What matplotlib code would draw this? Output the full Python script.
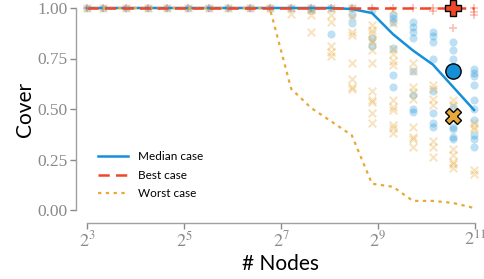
import numpy as np
import matplotlib
matplotlib.use("Agg")
from matplotlib import pyplot as plt

plt.rcParams['font.family'] = ['Liberation Serif', 'DejaVu Serif']
plt.rcParams['mathtext.fontset'] = 'stix'

# network sizes (# nodes) for each column of runs
nodes = [8, 10, 14, 19, 25, 34, 46, 60, 82, 109, 148, 197, 261, 352, 470, 635, 843, 1121, 1495, 2020]

median_cover = [1, 1, 1, 1, 1, 1, 1, 1, 1, 1, 1, 1, 1, 0.995, 0.975, 0.87, 0.79, 0.72, 0.61, 0.495]
best_cover = [1] * 20
worst_cover = [1, 1, 1, 1, 1, 1, 1, 1, 1, 1, 0.60, 0.505, 0.44, 0.37, 0.13, 0.115, 0.045, 0.045, 0.035, 0.01]

# individual runs, one list per column of nodes
median_runs = [
    [1.0], [1.0], [1.0], [1.0], [1.0], [1.0], [1.0], [1.0], [1.0], [1.0],
    [1.0],
    [1.0, 0.99],
    [1.0, 0.87],
    [1.0, 0.965, 0.925],
    [0.99, 0.85, 0.81],
    [0.965, 0.95, 0.93, 0.80, 0.67, 0.61],
    [0.93, 0.905, 0.88, 0.85, 0.69, 0.57, 0.50, 0.485],
    [0.88, 0.86, 0.83, 0.75, 0.59, 0.48, 0.43, 0.41],
    [0.83, 0.79, 0.75, 0.51, 0.41, 0.40, 0.36, 0.35],
    [0.70, 0.68, 0.665, 0.62, 0.545, 0.50, 0.445, 0.37, 0.35, 0.31],
]
worst_runs = [
    [1.0], [1.0], [1.0], [1.0], [1.0], [1.0], [1.0], [1.0], [1.0], [1.0],
    [1.0, 0.97],
    [1.0, 0.99, 0.965, 0.88],
    [1.0, 0.965, 0.93, 0.81, 0.78, 0.76],
    [1.0, 0.955, 0.88, 0.865, 0.73, 0.65, 0.61, 0.60],
    [0.915, 0.89, 0.875, 0.84, 0.83, 0.79, 0.73, 0.59, 0.545, 0.535, 0.48, 0.43],
    [0.99, 0.925, 0.795, 0.77, 0.74, 0.72, 0.545, 0.51, 0.495, 0.42, 0.405, 0.38],
    [0.73, 0.69, 0.61, 0.585, 0.55, 0.41, 0.36, 0.35, 0.31],
    [0.62, 0.60, 0.55, 0.52, 0.34, 0.31, 0.26],
    [0.545, 0.52, 0.30, 0.27, 0.24, 0.23, 0.21],
    [0.43, 0.41, 0.40, 0.20, 0.18],
]
best_runs = [[1.0]] * 17 + [[1.0, 0.985], [0.90], [1.0, 0.98, 0.965]]

# highlighted run
hl_nodes = 1495
hl_median, hl_best, hl_worst = 0.69, 1.0, 0.465

xticks = [2**3, 2**5, 2**7, 2**9, 2**11]
xtick_labels = ['$2^{3}$', '$2^{5}$', '$2^{7}$', '$2^{9}$', '$2^{11}$']
yticks = [0.0, 0.25, 0.5, 0.75, 1.0]

blue = '#1590d8'
red = '#f0462a'
orange = '#e8a93a'
grey = '#8a8a8a'


def flat(runs):
    xs, ys = [], []
    for n, r in zip(nodes, runs):
        xs += [n] * len(r)
        ys += r
    return xs, ys


fig = plt.figure(figsize=(4.85, 2.79), dpi=100)
ax = fig.add_axes([87/485, 1 - 210/279, 388/485, 202/279])

x, y = flat(median_runs)
ax.scatter(x, y, s=34, color=blue, alpha=0.28, linewidths=0, zorder=2, clip_on=False)
x, y = flat(worst_runs)
ax.scatter(x, y, s=30, marker='x', color=orange, alpha=0.32, linewidths=1.5, zorder=2, clip_on=False)
x, y = flat(best_runs)
ax.scatter(x, y, s=30, marker='+', color=red, alpha=0.32, linewidths=1.3, zorder=2, clip_on=False)

ax.plot(nodes, median_cover, color=blue, lw=1.8, label='Median case', zorder=3, clip_on=False)
ax.plot(nodes, best_cover, color=red, lw=1.8, ls=(0, (4.5, 2.5)), label='Best case', zorder=4, clip_on=False)
ax.plot(nodes, worst_cover, color=orange, lw=1.6, ls=(0, (1.5, 2)), label='Worst case', zorder=3, clip_on=False)

ax.plot([hl_nodes], [hl_median], 'o', ms=11, mfc=blue, mec='black', mew=1, zorder=6, clip_on=False)
ax.plot([hl_nodes], [hl_best], 'P', ms=12, mfc=red, mec='black', mew=1, zorder=6, clip_on=False)
ax.plot([hl_nodes], [hl_worst], 'X', ms=12, mfc=orange, mec='black', mew=1, zorder=6, clip_on=False)

ax.set_xscale('log', base=2)
ax.set_xlim(8, 2048)
ax.set_ylim(0, 1)
ax.set_xticks(xticks)
ax.set_xticklabels(xtick_labels)
ax.minorticks_off()
ax.set_yticks(yticks)
ax.set_yticklabels(['%.2f' % v for v in yticks])

for s in ['top', 'right']:
    ax.spines[s].set_visible(False)
ax.spines['left'].set_position(('outward', 8))
ax.spines['bottom'].set_position(('outward', 9))
for s in ['left', 'bottom']:
    ax.spines[s].set_color('#a0a0a0')
    ax.spines[s].set_linewidth(1.0)
ax.tick_params(colors=grey, labelsize=12.5, length=4, width=1, pad=2)
ax.tick_params(axis='x', labelsize=13)

ax.set_ylabel('Cover', fontsize=15, family='Lato', color='black', labelpad=2)
ax.set_xlabel('# Nodes', fontsize=15, family='Lato', color='black', labelpad=2)

leg = ax.legend(loc='lower left', bbox_to_anchor=(0.0, 0.0), frameon=False,
                prop={'family': 'Lato', 'size': 8.5}, handlelength=2.6,
                labelspacing=0.65, handletextpad=0.8)

fig.savefig('out.png', dpi=100)
